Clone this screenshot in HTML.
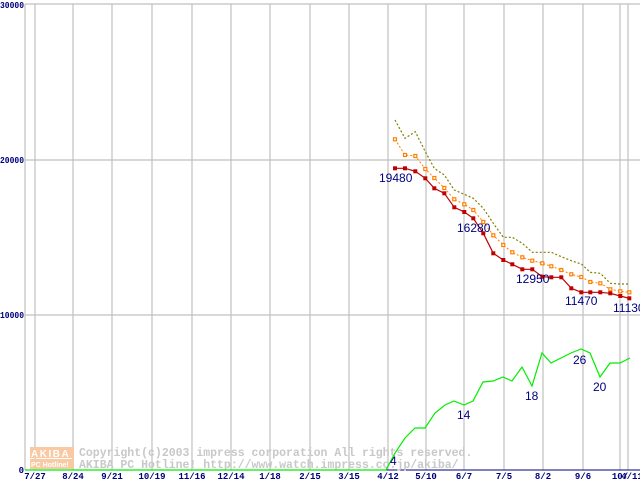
<!DOCTYPE html>
<html><head><meta charset="utf-8"><style>
html,body{margin:0;padding:0;background:#fff;}
svg{display:block;}
.ax{font-family:"Liberation Mono",monospace;font-size:9px;font-weight:bold;fill:#000080;}
.lb{font-family:"Liberation Sans",sans-serif;font-size:12px;fill:#000080;}
.wm{font-family:"Liberation Mono",monospace;font-size:11.5px;font-weight:bold;fill:#c8c8c8;}
</style></head><body>
<svg width="640" height="480" viewBox="0 0 640 480" xmlns="http://www.w3.org/2000/svg">
<g stroke="#c0c0c0" stroke-width="1.2" fill="none">
<line x1="25" y1="4" x2="640" y2="4"/><line x1="25" y1="160" x2="640" y2="160"/><line x1="25" y1="315" x2="640" y2="315"/>
<line x1="25" y1="4" x2="25" y2="470"/>
<line x1="35" y1="4" x2="35" y2="470"/><line x1="73" y1="4" x2="73" y2="470"/><line x1="112" y1="4" x2="112" y2="470"/><line x1="152" y1="4" x2="152" y2="470"/><line x1="192" y1="4" x2="192" y2="470"/><line x1="231" y1="4" x2="231" y2="470"/><line x1="270" y1="4" x2="270" y2="470"/><line x1="310" y1="4" x2="310" y2="470"/><line x1="349" y1="4" x2="349" y2="470"/><line x1="388" y1="4" x2="388" y2="470"/><line x1="426" y1="4" x2="426" y2="470"/><line x1="464" y1="4" x2="464" y2="470"/><line x1="504" y1="4" x2="504" y2="470"/><line x1="543" y1="4" x2="543" y2="470"/><line x1="583" y1="4" x2="583" y2="470"/><line x1="620" y1="4" x2="620" y2="470"/><line x1="628" y1="4" x2="628" y2="470"/>
</g>
<line x1="25" y1="470" x2="640" y2="470" stroke="#000080" stroke-width="1"/>
<text class="ax" x="0" y="8" textLength="24" lengthAdjust="spacingAndGlyphs">30000</text>
<text class="ax" x="0" y="163" textLength="24" lengthAdjust="spacingAndGlyphs">20000</text>
<text class="ax" x="0" y="318" textLength="24" lengthAdjust="spacingAndGlyphs">10000</text>
<text class="ax" x="24" y="473" text-anchor="end">0</text>
<g class="ax" text-anchor="middle">
<text x="35" y="479">7/27</text><text x="73" y="479">8/24</text><text x="112" y="479">9/21</text><text x="152" y="479">10/19</text><text x="192" y="479">11/16</text><text x="231" y="479">12/14</text><text x="270" y="479">1/18</text><text x="310" y="479">2/15</text><text x="349" y="479">3/15</text><text x="388" y="479">4/12</text><text x="426" y="479">5/10</text><text x="464" y="479">6/7</text><text x="504" y="479">7/5</text><text x="543" y="479">8/2</text><text x="583" y="479">9/6</text><text x="620" y="479">10/</text><text x="632" y="479">4/11</text>
</g>
<rect x="30" y="447" width="44" height="11" fill="#f9c9a3"/>
<rect x="30" y="459" width="44" height="10" fill="#f9c9a3"/>
<text x="31" y="457" font-family="Liberation Sans,sans-serif" font-size="10" font-weight="bold" fill="#fff" letter-spacing="1.5">AKIBA</text>
<text x="31" y="467" font-family="Liberation Sans,sans-serif" font-size="7" font-weight="bold" fill="#fff">PC Hotline!</text>
<text class="wm" x="79" y="456">Copyright(c)2003 impress corporation All rights reserved.</text>
<text class="wm" x="79" y="468">AKIBA PC Hotline!  http://www.watch.impress.co.jp/akiba/</text>
<polyline fill="none" stroke="#00ee00" stroke-width="1.2" points="25,470 386,470 395,453 405,438 415,428 425,428 435,413 445,405 454,401 464,405 473,401 483,382 493,381 503,377 512,381 522,367 532,386 542,353 551,363 561,358 571,353 581,349 590,353 600,377 610,363 620,363 630,358"/>
<polyline fill="none" stroke="#808000" stroke-width="1.2" stroke-dasharray="2,2" points="395,120 405,138.3 415.3,131.7 425.3,151.7 434.3,168.3 444.3,175 454.3,190 464.3,194.3 473.3,198.3 483.3,208.3 493.3,223.3 503.3,237.3 512.3,237.3 522.3,243.3 532.3,252.3 542.3,252.3 551.3,252.3 561.3,256.7 571.3,260.7 581.3,264 590.3,272.3 600.3,273.3 610.3,283.3 620.3,284 629.3,284"/>
<polyline fill="none" stroke="#ff8000" stroke-width="1" stroke-dasharray="2,2" points="395,139.3 405,155 415.3,156 425.3,169 434.3,178 444.3,188 454.3,199.3 464.3,204.3 473.3,210 483.3,222 493.3,235.3 503.3,245 512.3,252.3 522.3,257.3 532.3,260.7 542.3,263.3 551.3,266.3 561.3,270 571.3,274.3 581.3,277 590.3,282 600.3,283.3 610.3,289.3 620.3,291.3 629.3,292.3"/>
<g fill="#fff" stroke="#ff8000" stroke-width="1.2">
<rect x="393.5" y="137.8" width="3" height="3"/><rect x="403.5" y="153.5" width="3" height="3"/><rect x="413.8" y="154.5" width="3" height="3"/><rect x="423.8" y="167.5" width="3" height="3"/><rect x="432.8" y="176.5" width="3" height="3"/><rect x="442.8" y="186.5" width="3" height="3"/><rect x="452.8" y="197.8" width="3" height="3"/><rect x="462.8" y="202.8" width="3" height="3"/><rect x="471.8" y="208.5" width="3" height="3"/><rect x="481.8" y="220.5" width="3" height="3"/><rect x="491.8" y="233.8" width="3" height="3"/><rect x="501.8" y="243.5" width="3" height="3"/><rect x="510.8" y="250.8" width="3" height="3"/><rect x="520.8" y="255.8" width="3" height="3"/><rect x="530.8" y="259.2" width="3" height="3"/><rect x="540.8" y="261.8" width="3" height="3"/><rect x="549.8" y="264.8" width="3" height="3"/><rect x="559.8" y="268.5" width="3" height="3"/><rect x="569.8" y="272.8" width="3" height="3"/><rect x="579.8" y="275.5" width="3" height="3"/><rect x="588.8" y="280.5" width="3" height="3"/><rect x="598.8" y="281.8" width="3" height="3"/><rect x="608.8" y="287.8" width="3" height="3"/><rect x="618.8" y="289.8" width="3" height="3"/><rect x="627.8" y="290.8" width="3" height="3"/>
</g>
<polyline fill="none" stroke="#c00000" stroke-width="1.2" points="395,168.3 405,168.3 415.3,171.3 425.3,178.3 434.3,188.3 444.3,193.3 454.3,207.3 464.3,212 473.3,218.3 483.3,233.3 493.3,253.3 503.3,260 512.3,264.3 522.3,269.3 532.3,269.3 542.3,276.7 551.3,277.3 561.3,277.3 571.3,288.3 581.3,292.3 590.3,292.3 600.3,292.3 610.3,293.3 620.3,296 629.3,298.3"/>
<g fill="#c00000">
<rect x="393" y="166.3" width="4" height="4"/><rect x="403" y="166.3" width="4" height="4"/><rect x="413.3" y="169.3" width="4" height="4"/><rect x="423.3" y="176.3" width="4" height="4"/><rect x="432.3" y="186.3" width="4" height="4"/><rect x="442.3" y="191.3" width="4" height="4"/><rect x="452.3" y="205.3" width="4" height="4"/><rect x="462.3" y="210" width="4" height="4"/><rect x="471.3" y="216.3" width="4" height="4"/><rect x="481.3" y="231.3" width="4" height="4"/><rect x="491.3" y="251.3" width="4" height="4"/><rect x="501.3" y="258" width="4" height="4"/><rect x="510.3" y="262.3" width="4" height="4"/><rect x="520.3" y="267.3" width="4" height="4"/><rect x="530.3" y="267.3" width="4" height="4"/><rect x="540.3" y="274.7" width="4" height="4"/><rect x="549.3" y="275.3" width="4" height="4"/><rect x="559.3" y="275.3" width="4" height="4"/><rect x="569.3" y="286.3" width="4" height="4"/><rect x="579.3" y="290.3" width="4" height="4"/><rect x="588.3" y="290.3" width="4" height="4"/><rect x="598.3" y="290.3" width="4" height="4"/><rect x="608.3" y="291.3" width="4" height="4"/><rect x="618.3" y="294" width="4" height="4"/><rect x="627.3" y="296.3" width="4" height="4"/>
</g>
<g class="lb">
<text x="379" y="182">19480</text>
<text x="457" y="232">16280</text>
<text x="516" y="283">12950</text>
<text x="565" y="305">11470</text>
<text x="613" y="312">11130</text>
<text x="390" y="465">4</text>
<text x="457" y="419">14</text>
<text x="525" y="400">18</text>
<text x="573" y="364">26</text>
<text x="593" y="391">20</text>
</g>
</svg>
</body></html>
